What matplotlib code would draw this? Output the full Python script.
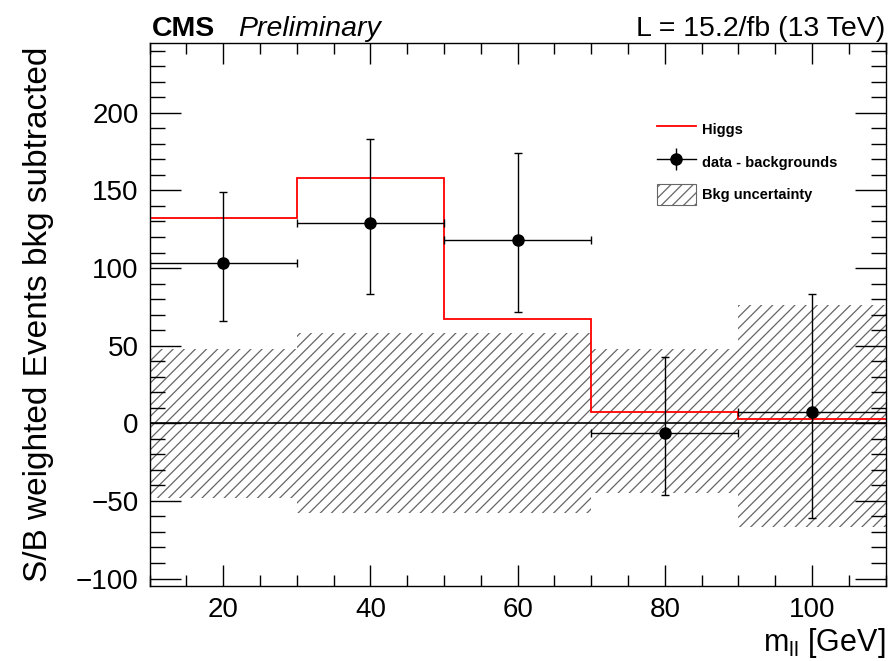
import numpy as np
import matplotlib
matplotlib.use("Agg")
import matplotlib.pyplot as plt
from matplotlib.lines import Line2D
from matplotlib.patches import Patch
from matplotlib.ticker import MultipleLocator

plt.rcParams["font.family"] = ["Liberation Sans", "DejaVu Sans"]
plt.rcParams["hatch.linewidth"] = 0.9

# bins in m_ll
edges = [10, 30, 50, 70, 90, 110]
higgs = [132, 158, 67, 7.5, 3]

# data - backgrounds
x_data = [20, 40, 60, 80, 100]
y_data = [103, 129, 118, -6.5, 7]
err_up = [46, 54, 56, 49, 76]
err_dn = [37, 46, 46, 40, 68]
x_half = [10, 10, 10, 10, 10]

# bkg uncertainty band (up / down around zero)
bkg_up = [48, 58, 58, 48, 76]
bkg_dn = [48, 58, 58, 45, 67]

HATCH_COL = "#666666"

fig = plt.figure(figsize=(8.91, 6.61), dpi=100)
ax = fig.add_axes([0.168, 0.113, 0.826, 0.822])

widths = np.diff(edges)
ax.bar(edges[:-1], np.add(bkg_up, bkg_dn), width=widths, bottom=-np.array(bkg_dn),
       align="edge", fill=False, hatch="///", edgecolor=HATCH_COL, linewidth=0)

ax.axhline(0, color="black", lw=1.2)
ax.stairs(higgs, edges, baseline=None, color="red", lw=1.3)

ax.errorbar(x_data, y_data, yerr=[err_dn, err_up], xerr=x_half, fmt="o", color="black",
            ms=8, elinewidth=1.0, capsize=3, capthick=1.0)

ax.set_xlim(10, 110)
ax.set_ylim(-105, 245)
ax.xaxis.set_major_locator(MultipleLocator(20))
ax.xaxis.set_minor_locator(MultipleLocator(5))
ax.yaxis.set_major_locator(MultipleLocator(50))
ax.yaxis.set_minor_locator(MultipleLocator(10))
ax.tick_params(which="both", direction="in", top=True, right=True, labelsize=20, pad=8)
ax.tick_params(which="major", length=22, width=1.0)
ax.tick_params(which="minor", length=11, width=1.0)
ax.tick_params(axis="x", which="major", length=15)
ax.tick_params(axis="x", which="minor", length=8)
for s in ax.spines.values():
    s.set_linewidth(1.0)

ax.set_ylabel("S/B weighted Events bkg subtracted", fontsize=24)
ax.yaxis.set_label_coords(-0.130, 0.5)
ax.set_xlabel(r"m$_{\mathregular{ll}}$ [GeV]", fontsize=22, loc="right", labelpad=2)

fig.text(0.171, 0.945, "CMS", fontsize=20.5, fontweight="bold")
fig.text(0.267, 0.945, "Preliminary", fontsize=20.5, style="italic")
fig.text(0.993, 0.945, "L = 15.2/fb (13 TeV)", fontsize=20.5, ha="right")

data_handle = (Line2D([], [], color="black", lw=1.0),
               Line2D([], [], marker="|", ms=16, mew=1.0, color="black", ls="none"),
               Line2D([], [], marker="o", ms=8, color="black", ls="none"))
handles = [Line2D([], [], color="red", lw=1.3), data_handle,
           Patch(facecolor="white", edgecolor=HATCH_COL, hatch="///", lw=0.8)]
labels = ["Higgs", "data - backgrounds", "Bkg uncertainty"]
ax.legend(handles, labels, loc="upper left", bbox_to_anchor=(0.671, 0.885),
          frameon=False, prop={"size": 10.5, "weight": "bold"}, handlelength=2.7,
          handleheight=1.9, labelspacing=0.75, handletextpad=0.4)

fig.savefig("out.png", dpi=100)
